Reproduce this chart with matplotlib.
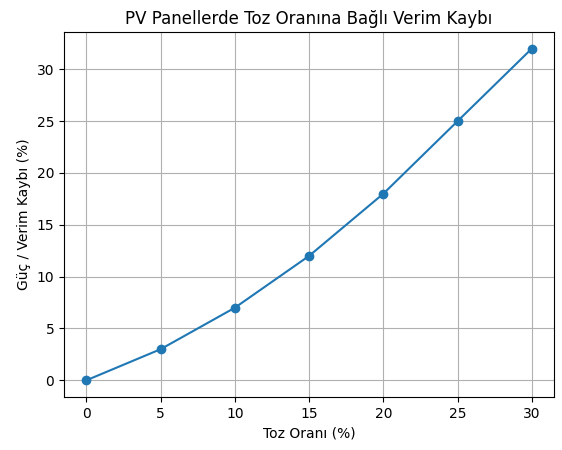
import matplotlib
matplotlib.use("Agg")
import matplotlib.pyplot as plt

# toz oranı ve verim kaybı değerleri
toz_orani = [0, 5, 10, 15, 20, 25, 30]
verim_kaybi = [0, 3, 7, 12, 18, 25, 32]

fig, ax = plt.subplots(figsize=(5.62, 4.5), dpi=100)
fig.subplots_adjust(left=0.114, right=0.986, top=0.929, bottom=0.118)
ax.plot(toz_orani, verim_kaybi, marker='o')
ax.set_title("PV Panellerde Toz Oranına Bağlı Verim Kaybı")
ax.set_xlabel("Toz Oranı (%)")
ax.set_ylabel("Güç / Verim Kaybı (%)")
ax.grid(True)
fig.savefig("out.png")
